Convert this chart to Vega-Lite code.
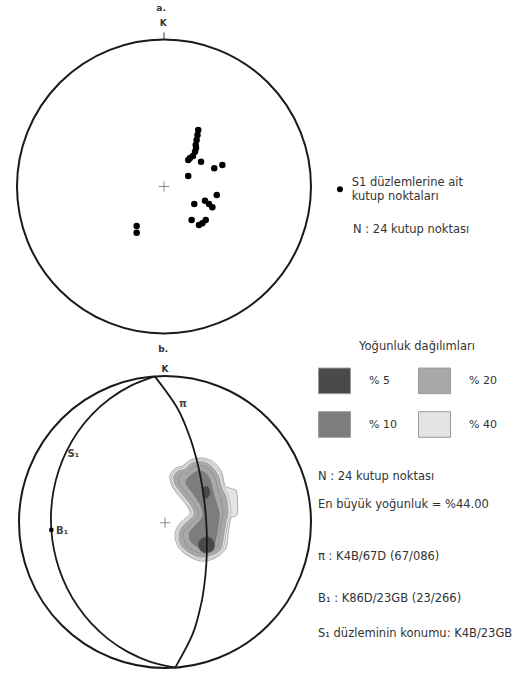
{
  "$schema": "https://vega.github.io/schema/vega-lite/v6.json",
  "padding": 0,
  "spacing": 0,
  "background": "white",
  "config": {"view": {"stroke": null}, "font": "DejaVu Sans"},
  "resolve": {"scale": {"fill": "independent", "x": "independent", "y": "independent"}, "legend": {"fill": "independent"}},
  "datasets": {
    "poles": [
      {"u":0.233,"v":0.384},{"u":0.228,"v":0.350},{"u":0.222,"v":0.316},{"u":0.216,"v":0.282},
      {"u":0.218,"v":0.262},{"u":0.211,"v":0.237},{"u":0.197,"v":0.207},{"u":0.177,"v":0.194},
      {"u":0.165,"v":0.180},{"u":0.252,"v":0.169},{"u":0.342,"v":0.124},{"u":0.397,"v":0.146},
      {"u":0.165,"v":0.071},{"u":0.206,"v":-0.119},{"u":0.279,"v":-0.097},{"u":0.306,"v":-0.119},
      {"u":0.329,"v":-0.141},{"u":0.359,"v":-0.058},{"u":0.188,"v":-0.228},{"u":0.261,"v":-0.250},
      {"u":0.284,"v":-0.228},{"u":0.238,"v":-0.262},{"u":-0.186,"v":-0.269},{"u":-0.186,"v":-0.314}
    ],
    "contours": [
      {"level":"% 40","poly":"a","i":0,"u":0.125,"v":0.388},
      {"level":"% 40","poly":"a","i":1,"u":0.183,"v":0.429},
      {"level":"% 40","poly":"a","i":2,"u":0.262,"v":0.438},
      {"level":"% 40","poly":"a","i":3,"u":0.331,"v":0.411},
      {"level":"% 40","poly":"a","i":4,"u":0.388,"v":0.342},
      {"level":"% 40","poly":"a","i":5,"u":0.411,"v":0.251},
      {"level":"% 40","poly":"a","i":6,"u":0.457,"v":0.228},
      {"level":"% 40","poly":"a","i":7,"u":0.491,"v":0.205},
      {"level":"% 40","poly":"a","i":8,"u":0.495,"v":0.057},
      {"level":"% 40","poly":"a","i":9,"u":0.457,"v":0.034},
      {"level":"% 40","poly":"a","i":10,"u":0.445,"v":0.0},
      {"level":"% 40","poly":"a","i":11,"u":0.434,"v":-0.068},
      {"level":"% 40","poly":"a","i":12,"u":0.423,"v":-0.160},
      {"level":"% 40","poly":"a","i":13,"u":0.399,"v":-0.205},
      {"level":"% 40","poly":"a","i":14,"u":0.331,"v":-0.253},
      {"level":"% 40","poly":"a","i":15,"u":0.240,"v":-0.267},
      {"level":"% 40","poly":"a","i":16,"u":0.149,"v":-0.226},
      {"level":"% 40","poly":"a","i":17,"u":0.091,"v":-0.171},
      {"level":"% 40","poly":"a","i":18,"u":0.068,"v":-0.091},
      {"level":"% 40","poly":"a","i":19,"u":0.091,"v":-0.023},
      {"level":"% 40","poly":"a","i":20,"u":0.137,"v":0.023},
      {"level":"% 40","poly":"a","i":21,"u":0.171,"v":0.057},
      {"level":"% 40","poly":"a","i":22,"u":0.149,"v":0.114},
      {"level":"% 40","poly":"a","i":23,"u":0.091,"v":0.183},
      {"level":"% 40","poly":"a","i":24,"u":0.046,"v":0.251},
      {"level":"% 40","poly":"a","i":25,"u":0.034,"v":0.320},
      {"level":"% 40","poly":"a","i":26,"u":0.068,"v":0.365},
      {"level":"% 20","poly":"b","i":0,"u":0.137,"v":0.363},
      {"level":"% 20","poly":"b","i":1,"u":0.185,"v":0.404},
      {"level":"% 20","poly":"b","i":2,"u":0.260,"v":0.411},
      {"level":"% 20","poly":"b","i":3,"u":0.315,"v":0.384},
      {"level":"% 20","poly":"b","i":4,"u":0.363,"v":0.322},
      {"level":"% 20","poly":"b","i":5,"u":0.390,"v":0.233},
      {"level":"% 20","poly":"b","i":6,"u":0.418,"v":0.171},
      {"level":"% 20","poly":"b","i":7,"u":0.432,"v":0.068},
      {"level":"% 20","poly":"b","i":8,"u":0.418,"v":0.0},
      {"level":"% 20","poly":"b","i":9,"u":0.404,"v":-0.082},
      {"level":"% 20","poly":"b","i":10,"u":0.390,"v":-0.164},
      {"level":"% 20","poly":"b","i":11,"u":0.370,"v":-0.199},
      {"level":"% 20","poly":"b","i":12,"u":0.322,"v":-0.226},
      {"level":"% 20","poly":"b","i":13,"u":0.240,"v":-0.240},
      {"level":"% 20","poly":"b","i":14,"u":0.158,"v":-0.205},
      {"level":"% 20","poly":"b","i":15,"u":0.110,"v":-0.158},
      {"level":"% 20","poly":"b","i":16,"u":0.096,"v":-0.089},
      {"level":"% 20","poly":"b","i":17,"u":0.116,"v":-0.034},
      {"level":"% 20","poly":"b","i":18,"u":0.158,"v":0.007},
      {"level":"% 20","poly":"b","i":19,"u":0.199,"v":0.055},
      {"level":"% 20","poly":"b","i":20,"u":0.171,"v":0.123},
      {"level":"% 20","poly":"b","i":21,"u":0.116,"v":0.192},
      {"level":"% 20","poly":"b","i":22,"u":0.068,"v":0.260},
      {"level":"% 20","poly":"b","i":23,"u":0.062,"v":0.315},
      {"level":"% 20","poly":"b","i":24,"u":0.089,"v":0.349},
      {"level":"% 10","poly":"c","i":0,"u":0.164,"v":0.308},
      {"level":"% 10","poly":"c","i":1,"u":0.226,"v":0.349},
      {"level":"% 10","poly":"c","i":2,"u":0.274,"v":0.336},
      {"level":"% 10","poly":"c","i":3,"u":0.308,"v":0.288},
      {"level":"% 10","poly":"c","i":4,"u":0.329,"v":0.205},
      {"level":"% 10","poly":"c","i":5,"u":0.349,"v":0.137},
      {"level":"% 10","poly":"c","i":6,"u":0.370,"v":0.062},
      {"level":"% 10","poly":"c","i":7,"u":0.363,"v":-0.027},
      {"level":"% 10","poly":"c","i":8,"u":0.349,"v":-0.110},
      {"level":"% 10","poly":"c","i":9,"u":0.329,"v":-0.164},
      {"level":"% 10","poly":"c","i":10,"u":0.274,"v":-0.185},
      {"level":"% 10","poly":"c","i":11,"u":0.212,"v":-0.164},
      {"level":"% 10","poly":"c","i":12,"u":0.171,"v":-0.123},
      {"level":"% 10","poly":"c","i":13,"u":0.171,"v":-0.068},
      {"level":"% 10","poly":"c","i":14,"u":0.212,"v":-0.021},
      {"level":"% 10","poly":"c","i":15,"u":0.260,"v":0.041},
      {"level":"% 10","poly":"c","i":16,"u":0.240,"v":0.123},
      {"level":"% 10","poly":"c","i":17,"u":0.185,"v":0.205},
      {"level":"% 10","poly":"c","i":18,"u":0.144,"v":0.267},
      {"level":"% 5","poly":"d","i":0,"u":0.240,"v":-0.123},
      {"level":"% 5","poly":"d","i":1,"u":0.295,"v":-0.103},
      {"level":"% 5","poly":"d","i":2,"u":0.336,"v":-0.137},
      {"level":"% 5","poly":"d","i":3,"u":0.329,"v":-0.192},
      {"level":"% 5","poly":"d","i":4,"u":0.274,"v":-0.212},
      {"level":"% 5","poly":"d","i":5,"u":0.233,"v":-0.178},
      {"level":"% 5","poly":"e","i":0,"u":0.260,"v":0.233},
      {"level":"% 5","poly":"e","i":1,"u":0.295,"v":0.240},
      {"level":"% 5","poly":"e","i":2,"u":0.308,"v":0.199},
      {"level":"% 5","poly":"e","i":3,"u":0.288,"v":0.164},
      {"level":"% 5","poly":"e","i":4,"u":0.260,"v":0.178}
    ],
    "outlines": [
      {"poly":"o1","i":0,"u":0.130,"v":0.377},
      {"poly":"o1","i":1,"u":0.185,"v":0.418},
      {"poly":"o1","i":2,"u":0.260,"v":0.425},
      {"poly":"o1","i":3,"u":0.322,"v":0.397},
      {"poly":"o1","i":4,"u":0.377,"v":0.336},
      {"poly":"o1","i":5,"u":0.404,"v":0.240},
      {"poly":"o1","i":6,"u":0.432,"v":0.185},
      {"poly":"o1","i":7,"u":0.452,"v":0.068},
      {"poly":"o1","i":8,"u":0.432,"v":0.0},
      {"poly":"o1","i":9,"u":0.418,"v":-0.075},
      {"poly":"o1","i":10,"u":0.404,"v":-0.164},
      {"poly":"o1","i":11,"u":0.384,"v":-0.199},
      {"poly":"o1","i":12,"u":0.329,"v":-0.240},
      {"poly":"o1","i":13,"u":0.240,"v":-0.253},
      {"poly":"o1","i":14,"u":0.151,"v":-0.219},
      {"poly":"o1","i":15,"u":0.103,"v":-0.164},
      {"poly":"o1","i":16,"u":0.082,"v":-0.089},
      {"poly":"o1","i":17,"u":0.103,"v":-0.027},
      {"poly":"o1","i":18,"u":0.144,"v":0.014},
      {"poly":"o1","i":19,"u":0.185,"v":0.055},
      {"poly":"o1","i":20,"u":0.158,"v":0.116},
      {"poly":"o1","i":21,"u":0.103,"v":0.185},
      {"poly":"o1","i":22,"u":0.055,"v":0.253},
      {"poly":"o1","i":23,"u":0.048,"v":0.315},
      {"poly":"o1","i":24,"u":0.075,"v":0.356},
      {"poly":"o2","i":0,"u":0.151,"v":0.336},
      {"poly":"o2","i":1,"u":0.192,"v":0.377},
      {"poly":"o2","i":2,"u":0.260,"v":0.384},
      {"poly":"o2","i":3,"u":0.301,"v":0.356},
      {"poly":"o2","i":4,"u":0.342,"v":0.301},
      {"poly":"o2","i":5,"u":0.363,"v":0.219},
      {"poly":"o2","i":6,"u":0.384,"v":0.158},
      {"poly":"o2","i":7,"u":0.397,"v":0.068},
      {"poly":"o2","i":8,"u":0.384,"v":-0.014},
      {"poly":"o2","i":9,"u":0.370,"v":-0.096},
      {"poly":"o2","i":10,"u":0.363,"v":-0.158},
      {"poly":"o2","i":11,"u":0.336,"v":-0.192},
      {"poly":"o2","i":12,"u":0.295,"v":-0.205},
      {"poly":"o2","i":13,"u":0.240,"v":-0.212},
      {"poly":"o2","i":14,"u":0.171,"v":-0.185},
      {"poly":"o2","i":15,"u":0.137,"v":-0.137},
      {"poly":"o2","i":16,"u":0.123,"v":-0.089},
      {"poly":"o2","i":17,"u":0.144,"v":-0.048},
      {"poly":"o2","i":18,"u":0.185,"v":-0.007},
      {"poly":"o2","i":19,"u":0.233,"v":0.048},
      {"poly":"o2","i":20,"u":0.199,"v":0.130},
      {"poly":"o2","i":21,"u":0.144,"v":0.199},
      {"poly":"o2","i":22,"u":0.096,"v":0.267},
      {"poly":"o2","i":23,"u":0.096,"v":0.308},
      {"poly":"o2","i":24,"u":0.116,"v":0.329}
    ],
    "arcs": [
      {"arc":"pi","i":0,"u":-0.0698,"v":0.9976},
      {"arc":"pi","i":1,"u":0.0824,"v":0.7838},
      {"arc":"pi","i":2,"u":0.1682,"v":0.5868},
      {"arc":"pi","i":3,"u":0.2137,"v":0.4382},
      {"arc":"pi","i":4,"u":0.2392,"v":0.3292},
      {"arc":"pi","i":5,"u":0.2547,"v":0.2460},
      {"arc":"pi","i":6,"u":0.2649,"v":0.1787},
      {"arc":"pi","i":7,"u":0.2720,"v":0.1211},
      {"arc":"pi","i":8,"u":0.2773,"v":0.0691},
      {"arc":"pi","i":9,"u":0.2813,"v":0.0197},
      {"arc":"pi","i":10,"u":0.2842,"v":-0.0299},
      {"arc":"pi","i":11,"u":0.2863,"v":-0.0821},
      {"arc":"pi","i":12,"u":0.2872,"v":-0.1401},
      {"arc":"pi","i":13,"u":0.2865,"v":-0.2081},
      {"arc":"pi","i":14,"u":0.2827,"v":-0.2927},
      {"arc":"pi","i":15,"u":0.2726,"v":-0.4041},
      {"arc":"pi","i":16,"u":0.2483,"v":-0.5576},
      {"arc":"pi","i":17,"u":0.1906,"v":-0.7647},
      {"arc":"pi","i":18,"u":0.0698,"v":-0.9976},
      {"arc":"s1","i":0,"u":0.0698,"v":-0.9976},
      {"arc":"s1","i":1,"u":-0.1006,"v":-0.9574},
      {"arc":"s1","i":2,"u":-0.2550,"v":-0.8895},
      {"arc":"s1","i":3,"u":-0.3903,"v":-0.8002},
      {"arc":"s1","i":4,"u":-0.5047,"v":-0.6946},
      {"arc":"s1","i":5,"u":-0.5980,"v":-0.5775},
      {"arc":"s1","i":6,"u":-0.6710,"v":-0.4526},
      {"arc":"s1","i":7,"u":-0.7248,"v":-0.3227},
      {"arc":"s1","i":8,"u":-0.7604,"v":-0.1896},
      {"arc":"s1","i":9,"u":-0.7786,"v":-0.0545},
      {"arc":"s1","i":10,"u":-0.7794,"v":0.0819},
      {"arc":"s1","i":11,"u":-0.7627,"v":0.2187},
      {"arc":"s1","i":12,"u":-0.7275,"v":0.3548},
      {"arc":"s1","i":13,"u":-0.6725,"v":0.4886},
      {"arc":"s1","i":14,"u":-0.5965,"v":0.6176},
      {"arc":"s1","i":15,"u":-0.4979,"v":0.7381},
      {"arc":"s1","i":16,"u":-0.3763,"v":0.8453},
      {"arc":"s1","i":17,"u":-0.2329,"v":0.9341},
      {"arc":"s1","i":18,"u":-0.0698,"v":0.9976}
    ],
    "rightText": [
      {"u":1.048,"v":0.308,"t":"N  :  24 kutup noktası"},
      {"u":1.048,"v":0.114,"t":"En büyük yoğunluk  = %44.00"},
      {"u":1.048,"v":-0.240,"t":"π  : K4B/67D (67/086)"},
      {"u":1.048,"v":-0.525,"t":"B₁  : K86D/23GB (23/266)"},
      {"u":1.048,"v":-0.765,"t":"S₁ düzleminin konumu: K4B/23GB"}
    ]
  },
  "vconcat": [
    {
      "width": 528,
      "height": 336,
      "encoding": {
        "x": {"field": "u", "type": "quantitative", "scale": {"domain": [-1.1156, 2.4762], "nice": false, "zero": false}, "axis": null},
        "y": {"field": "v", "type": "quantitative", "scale": {"domain": [-1.017, 1.2687], "nice": false, "zero": false}, "axis": null}
      },
      "layer": [
        {"data": {"values": [{"u": 0, "v": 0}]}, "mark": {"type": "point", "shape": "circle", "size": 86436, "filled": false, "stroke": "#1a1a1a", "strokeWidth": 2, "opacity": 1}},
        {"data": {"values": [{"u": 0, "v": 0}]}, "mark": {"type": "point", "shape": "M-1,0H1M0,-1V1", "size": 110, "filled": false, "stroke": "#888", "strokeWidth": 1, "opacity": 1}},
        {"data": {"values": [{"u": 0, "v": 1, "v2": 1.048}]}, "mark": {"type": "rule", "stroke": "#333", "strokeWidth": 1}, "encoding": {"y2": {"field": "v2"}}},
        {"data": {"name": "poles"}, "mark": {"type": "point", "filled": true, "color": "#000", "size": 42, "opacity": 1}},
        {"data": {"values": [{"u": 1.197, "v": -0.019}]}, "mark": {"type": "point", "filled": true, "color": "#000", "size": 36, "opacity": 1}},
        {"data": {"values": [
            {"u": 1.277, "v": 0.022, "t": "S1 düzlemlerine ait"},
            {"u": 1.277, "v": -0.069, "t": "kutup noktaları"},
            {"u": 1.286, "v": -0.296, "t": "N  :  24 kutup noktası"}]},
         "mark": {"type": "text", "align": "left", "baseline": "middle", "fontSize": 11.5, "fill": "#333"},
         "encoding": {"text": {"field": "t"}}},
        {"data": {"values": [{"u": -0.02, "v": 1.214, "t": "a."}, {"u": -0.005, "v": 1.11, "t": "K"}]},
         "mark": {"type": "text", "align": "center", "baseline": "middle", "fontSize": 9, "fontWeight": "bold", "fill": "#333"},
         "encoding": {"text": {"field": "t"}}}
      ]
    },
    {
      "width": 528,
      "height": 337,
      "encoding": {
        "x": {"field": "u", "type": "quantitative", "scale": {"domain": [-1.1301, 2.4863], "nice": false, "zero": false}, "axis": null},
        "y": {"field": "v", "type": "quantitative", "scale": {"domain": [-1.0479, 1.2603], "nice": false, "zero": false}, "axis": null}
      },
      "layer": [
        {"data": {"name": "contours"}, "transform": [{"filter": "datum.level === '% 40'"}],
         "mark": {"type": "line", "filled": true, "interpolate": "cardinal-closed", "stroke": "#999", "strokeWidth": 0.8},
         "encoding": {
           "fill": {"field": "level", "type": "nominal",
             "scale": {"domain": ["% 5", "% 10", "% 20", "% 40"], "range": ["#4a4a4a", "#7d7d7d", "#a8a8a8", "#e4e4e4"]},
             "legend": {"orient": "none", "legendX": 318, "legendY": 26, "columns": 2, "title": null,
               "symbolType": "M-1,-0.8H1V0.8H-1Z", "symbolSize": 1024, "symbolStrokeColor": "#777", "symbolStrokeWidth": 1,
               "labelOffset": 18, "columnPadding": 19, "rowPadding": 12, "labelFontSize": 11, "labelFont": "DejaVu Sans", "labelColor": "#333", "padding": 0, "symbolOpacity": 1}},
           "detail": {"field": "poly"}, "order": {"field": "i", "type": "quantitative"}}},
        {"data": {"name": "outlines"}, "transform": [{"filter": "datum.poly === 'o1'"}],
         "mark": {"type": "line", "interpolate": "cardinal-closed", "stroke": "#aaa", "strokeWidth": 0.7},
         "encoding": {"detail": {"field": "poly"}, "order": {"field": "i", "type": "quantitative"}}},
        {"data": {"name": "contours"}, "transform": [{"filter": "datum.level === '% 20'"}],
         "mark": {"type": "line", "filled": true, "interpolate": "cardinal-closed", "stroke": "#999", "strokeWidth": 0.8},
         "encoding": {"fill": {"field": "level", "type": "nominal"}, "detail": {"field": "poly"}, "order": {"field": "i", "type": "quantitative"}}},
        {"data": {"name": "outlines"}, "transform": [{"filter": "datum.poly === 'o2'"}],
         "mark": {"type": "line", "interpolate": "cardinal-closed", "stroke": "#8a8a8a", "strokeWidth": 0.7},
         "encoding": {"detail": {"field": "poly"}, "order": {"field": "i", "type": "quantitative"}}},
        {"data": {"name": "contours"}, "transform": [{"filter": "datum.level === '% 10'"}],
         "mark": {"type": "line", "filled": true, "interpolate": "cardinal-closed", "stroke": "#777", "strokeWidth": 0.8},
         "encoding": {"fill": {"field": "level", "type": "nominal"}, "detail": {"field": "poly"}, "order": {"field": "i", "type": "quantitative"}}},
        {"data": {"name": "contours"}, "transform": [{"filter": "datum.level === '% 5'"}],
         "mark": {"type": "line", "filled": true, "interpolate": "cardinal-closed", "stroke": "#555", "strokeWidth": 0.8},
         "encoding": {"fill": {"field": "level", "type": "nominal"}, "detail": {"field": "poly"}, "order": {"field": "i", "type": "quantitative"}}},
        {"data": {"values": [{"u": 0, "v": 0}]}, "mark": {"type": "point", "shape": "circle", "size": 85264, "filled": false, "stroke": "#1a1a1a", "strokeWidth": 2, "opacity": 1}},
        {"data": {"name": "arcs"}, "mark": {"type": "line", "interpolate": "cardinal", "stroke": "#1a1a1a", "strokeWidth": 1.8},
         "encoding": {"detail": {"field": "arc"}, "order": {"field": "i", "type": "quantitative"}}},
        {"data": {"values": [{"u": -0.7786, "v": -0.0545}]}, "mark": {"type": "point", "filled": true, "color": "#000", "size": 22, "opacity": 1}},
        {"data": {"values": [{"u": 0, "v": -0.005}]}, "mark": {"type": "point", "shape": "M-1,0H1M0,-1V1", "size": 110, "filled": false, "stroke": "#888", "strokeWidth": 1, "opacity": 1}},
        {"data": {"values": [{"u": -0.012, "v": 1.183, "t": "b."}, {"u": 0, "v": 1.05, "t": "K"}]},
         "mark": {"type": "text", "align": "center", "baseline": "middle", "fontSize": 9, "fontWeight": "bold", "fill": "#333"},
         "encoding": {"text": {"field": "t"}}},
        {"data": {"values": [{"u": 0.123, "v": 0.808, "t": "π"}, {"u": -0.628, "v": 0.468, "t": "S₁"}, {"u": -0.705, "v": -0.064, "t": "B₁"}]},
         "mark": {"type": "text", "align": "center", "baseline": "middle", "fontSize": 10, "fontWeight": "bold", "fill": "#444"},
         "encoding": {"text": {"field": "t"}}},
        {"data": {"name": "rightText"},
         "mark": {"type": "text", "align": "left", "baseline": "middle", "fontSize": 11.5, "fill": "#333"},
         "encoding": {"text": {"field": "t"}}},
        {"data": {"values": [{"u": 1.726, "v": 1.199, "t": "Yoğunluk dağılımları"}]},
         "mark": {"type": "text", "align": "center", "baseline": "middle", "fontSize": 11.5, "fill": "#333"},
         "encoding": {"text": {"field": "t"}}}
      ]
    }
  ]
}
